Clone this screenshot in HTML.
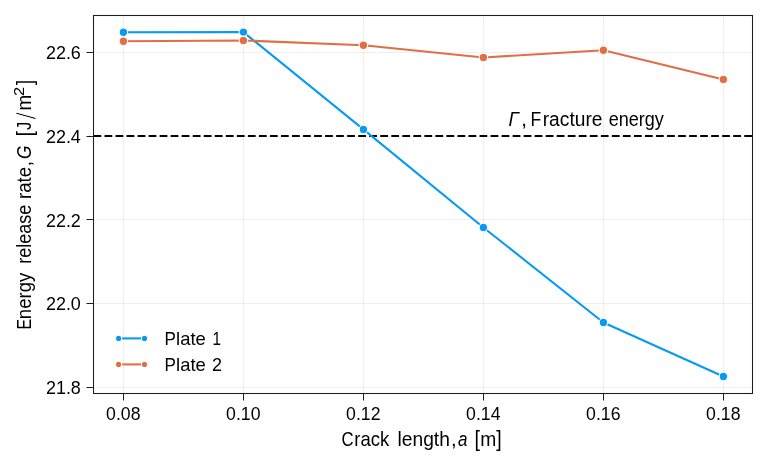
<!DOCTYPE html>
<html><head><meta charset="utf-8"><title>Energy release rate vs crack length</title>
<style>html,body{margin:0;padding:0;background:#fff}svg{display:block;will-change:transform}text{font-family:"Liberation Sans",sans-serif;fill:#000;font-kerning:none;white-space:pre}</style></head><body>
<svg width="767" height="467" viewBox="0 0 767 467">
<rect width="767" height="467" fill="#fff"/>
<line x1="123.5" y1="15.5" x2="123.5" y2="393.5" stroke="#000" stroke-opacity="0.062" stroke-width="1"/>
<line x1="243.5" y1="15.5" x2="243.5" y2="393.5" stroke="#000" stroke-opacity="0.062" stroke-width="1"/>
<line x1="363.5" y1="15.5" x2="363.5" y2="393.5" stroke="#000" stroke-opacity="0.062" stroke-width="1"/>
<line x1="483.5" y1="15.5" x2="483.5" y2="393.5" stroke="#000" stroke-opacity="0.062" stroke-width="1"/>
<line x1="603.5" y1="15.5" x2="603.5" y2="393.5" stroke="#000" stroke-opacity="0.062" stroke-width="1"/>
<line x1="723.5" y1="15.5" x2="723.5" y2="393.5" stroke="#000" stroke-opacity="0.062" stroke-width="1"/>
<line x1="93.5" y1="387.5" x2="752.5" y2="387.5" stroke="#000" stroke-opacity="0.062" stroke-width="1"/>
<line x1="93.5" y1="303.5" x2="752.5" y2="303.5" stroke="#000" stroke-opacity="0.062" stroke-width="1"/>
<line x1="93.5" y1="219.5" x2="752.5" y2="219.5" stroke="#000" stroke-opacity="0.062" stroke-width="1"/>
<line x1="93.5" y1="136.5" x2="752.5" y2="136.5" stroke="#000" stroke-opacity="0.062" stroke-width="1"/>
<line x1="93.5" y1="52.5" x2="752.5" y2="52.5" stroke="#000" stroke-opacity="0.062" stroke-width="1"/>
<line x1="93.5" y1="136" x2="753.0" y2="136" stroke="#000" stroke-width="2.08" stroke-dasharray="7.7 3.33"/>
<polyline points="123.40,32.25 243.40,32.1 363.40,129.4 483.40,227.45 603.40,322.45 723.40,376.45" fill="none" stroke="#069AF3" stroke-width="2.08" stroke-linejoin="round"/>
<circle cx="123.40" cy="32.25" r="4.22" fill="#069AF3" stroke="#fff" stroke-width="1.04"/>
<circle cx="243.40" cy="32.1" r="4.22" fill="#069AF3" stroke="#fff" stroke-width="1.04"/>
<circle cx="363.40" cy="129.4" r="4.22" fill="#069AF3" stroke="#fff" stroke-width="1.04"/>
<circle cx="483.40" cy="227.45" r="4.22" fill="#069AF3" stroke="#fff" stroke-width="1.04"/>
<circle cx="603.40" cy="322.45" r="4.22" fill="#069AF3" stroke="#fff" stroke-width="1.04"/>
<circle cx="723.40" cy="376.45" r="4.22" fill="#069AF3" stroke="#fff" stroke-width="1.04"/>
<polyline points="123.40,41.2 243.40,40.45 363.40,45.3 483.40,57.45 603.40,50.3 723.40,79.4" fill="none" stroke="#E26E46" stroke-width="2.08" stroke-linejoin="round"/>
<circle cx="123.40" cy="41.2" r="4.22" fill="#E26E46" stroke="#fff" stroke-width="1.04"/>
<circle cx="243.40" cy="40.45" r="4.22" fill="#E26E46" stroke="#fff" stroke-width="1.04"/>
<circle cx="363.40" cy="45.3" r="4.22" fill="#E26E46" stroke="#fff" stroke-width="1.04"/>
<circle cx="483.40" cy="57.45" r="4.22" fill="#E26E46" stroke="#fff" stroke-width="1.04"/>
<circle cx="603.40" cy="50.3" r="4.22" fill="#E26E46" stroke="#fff" stroke-width="1.04"/>
<circle cx="723.40" cy="79.4" r="4.22" fill="#E26E46" stroke="#fff" stroke-width="1.04"/>
<rect x="93.5" y="15.5" width="659.0" height="378.0" fill="none" stroke="#1e1e1e" stroke-width="1.05"/>
<line x1="123.5" y1="393.5" x2="123.5" y2="400.5" stroke="#1e1e1e" stroke-width="1.05"/>
<line x1="243.5" y1="393.5" x2="243.5" y2="400.5" stroke="#1e1e1e" stroke-width="1.05"/>
<line x1="363.5" y1="393.5" x2="363.5" y2="400.5" stroke="#1e1e1e" stroke-width="1.05"/>
<line x1="483.5" y1="393.5" x2="483.5" y2="400.5" stroke="#1e1e1e" stroke-width="1.05"/>
<line x1="603.5" y1="393.5" x2="603.5" y2="400.5" stroke="#1e1e1e" stroke-width="1.05"/>
<line x1="723.5" y1="393.5" x2="723.5" y2="400.5" stroke="#1e1e1e" stroke-width="1.05"/>
<line x1="86.5" y1="387.5" x2="93.5" y2="387.5" stroke="#1e1e1e" stroke-width="1.05"/>
<line x1="86.5" y1="303.5" x2="93.5" y2="303.5" stroke="#1e1e1e" stroke-width="1.05"/>
<line x1="86.5" y1="219.5" x2="93.5" y2="219.5" stroke="#1e1e1e" stroke-width="1.05"/>
<line x1="86.5" y1="136.5" x2="93.5" y2="136.5" stroke="#1e1e1e" stroke-width="1.05"/>
<line x1="86.5" y1="52.5" x2="93.5" y2="52.5" stroke="#1e1e1e" stroke-width="1.05"/>
<text transform="translate(106.11,419.9) scale(0.9390,1)" font-size="18.8">0.08</text>
<text transform="translate(226.11,419.9) scale(0.9390,1)" font-size="18.8">0.10</text>
<text transform="translate(346.11,419.9) scale(0.9390,1)" font-size="18.8">0.12</text>
<text transform="translate(466.11,419.9) scale(0.9390,1)" font-size="18.8">0.14</text>
<text transform="translate(586.11,419.9) scale(0.9390,1)" font-size="18.8">0.16</text>
<text transform="translate(706.11,419.9) scale(0.9390,1)" font-size="18.8">0.18</text>
<text transform="translate(45.90,394.15) scale(0.9564,1)" font-size="18.8">21.8</text>
<text transform="translate(45.90,310.35) scale(0.9564,1)" font-size="18.8">22.0</text>
<text transform="translate(45.90,226.55) scale(0.9564,1)" font-size="18.8">22.2</text>
<text transform="translate(45.90,142.75) scale(0.9564,1)" font-size="18.8">22.4</text>
<text transform="translate(45.90,58.95) scale(0.9564,1)" font-size="18.8">22.6</text>
<line x1="118.6" y1="338.4" x2="144.5" y2="338.4" stroke="#069AF3" stroke-width="2.08"/>
<circle cx="118.6" cy="338.4" r="3.1" fill="#069AF3" stroke="#fff" stroke-width="1.04"/>
<circle cx="144.5" cy="338.4" r="3.1" fill="#069AF3" stroke="#fff" stroke-width="1.04"/>
<line x1="118.6" y1="364.4" x2="144.5" y2="364.4" stroke="#E26E46" stroke-width="2.08"/>
<circle cx="118.6" cy="364.4" r="3.1" fill="#E26E46" stroke="#fff" stroke-width="1.04"/>
<circle cx="144.5" cy="364.4" r="3.1" fill="#E26E46" stroke="#fff" stroke-width="1.04"/>
<text transform="translate(164.50,344.90) scale(0.9095,1)" font-size="18.8">P</text>
<text transform="translate(176.06,344.90) scale(0.9925,1)" font-size="18.6">late</text>
<text transform="translate(212.43,344.90) scale(0.8230,1)" font-size="18.6">1</text>
<text transform="translate(164.50,370.90) scale(0.9095,1)" font-size="18.8">P</text>
<text transform="translate(176.06,370.90) scale(0.9925,1)" font-size="18.6">late</text>
<text transform="translate(212.09,370.90) scale(0.9677,1)" font-size="18.6">2</text>
<text transform="translate(341.55,445.80) scale(0.8047,1)" font-size="20.8">C</text>
<text transform="translate(354.37,445.80) scale(0.9453,1)" font-size="19.6">rack</text>
<text transform="translate(397.50,445.80) scale(0.9821,1)" font-size="19.6">length</text>
<text transform="translate(450.97,445.80) scale(1.0397,1)" font-size="19.6">,</text>
<text transform="translate(457.92,445.80) scale(0.8682,1)" font-size="19.6" font-style="italic">a</text>
<text transform="translate(474.50,446.30) scale(0.9085,1)" font-size="21.6">[</text>
<text transform="translate(480.22,445.80) scale(0.9830,1)" font-size="19.6">m</text>
<text transform="translate(496.15,446.30) scale(0.9085,1)" font-size="21.6">]</text>
<text transform="translate(508.62,125.80) scale(0.9027,1)" font-size="20.8" font-style="italic">Γ</text>
<text transform="translate(521.27,125.80) scale(1.0397,1)" font-size="19.6">,</text>
<text transform="translate(530.46,125.80) scale(0.8459,1)" font-size="20.8">F</text>
<text transform="translate(542.72,125.80) scale(0.9808,1)" font-size="19.6">racture</text>
<text transform="translate(608.63,125.80) scale(0.9228,1)" font-size="19.6">energy</text>
<g transform="translate(31.1,328.5) rotate(-90)">
<text transform="translate(-1.00,0.00) scale(0.7629,1)" font-size="20.8">E</text>
<text transform="translate(9.37,0.00) scale(0.9457,1)" font-size="19.6">nergy</text>
<text transform="translate(64.81,0.00) scale(0.9161,1)" font-size="19.6">release</text>
<text transform="translate(129.46,0.00) scale(0.9493,1)" font-size="19.6">rate</text>
<text transform="translate(162.07,0.00) scale(1.0397,1)" font-size="19.6">,</text>
<text transform="translate(169.45,0.00) scale(0.8275,1)" font-size="20.8" font-style="italic">G</text>
<text transform="translate(192.27,0.50) scale(0.8620,1)" font-size="21.6">[</text>
<text transform="translate(198.54,0.00) scale(0.8459,1)" font-size="19.6">J</text>
<text transform="translate(208.80,5.00) scale(1.0063,1)" font-size="27.9" stroke="#fff" stroke-width="0.9">/</text>
<text transform="translate(218.05,0.00) scale(0.9612,1)" font-size="19.6">m</text>
<text transform="translate(232.47,-7.60) scale(1.1594,1)" font-size="14.2">2</text>
<text transform="translate(243.15,0.50) scale(0.9085,1)" font-size="21.6">]</text>
</g>
</svg></body></html>
